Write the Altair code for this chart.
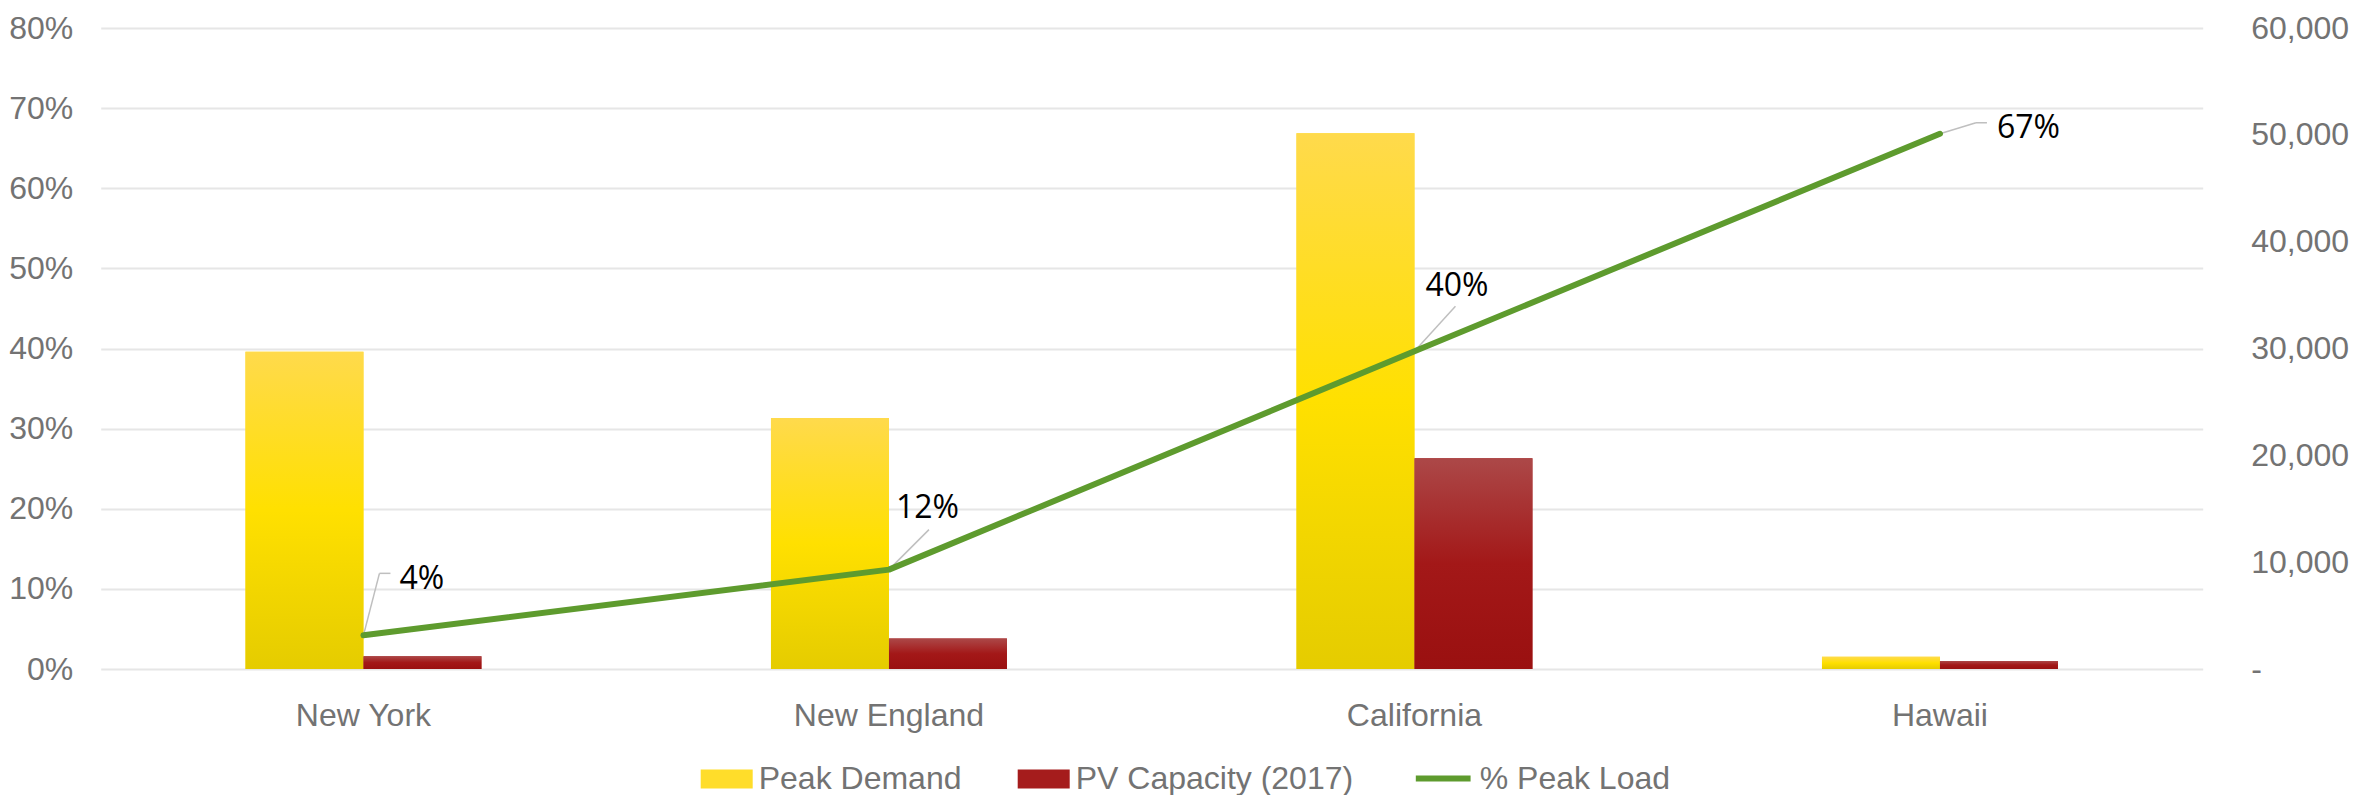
import altair as alt
import pandas as pd

# ---------------- data ----------------
CATEGORIES = ["New York", "New England", "California", "Hawaii"]
PEAK_DEMAND = [29700, 23500, 50150, 1150]
PV_CAPACITY = [1200, 2860, 19720, 760]
PCT_PEAK_LOAD = [0.042, 0.124, 0.3965, 0.668]
BAR_SERIES = ["Peak Demand", "PV Capacity (2017)"]
LINE_SERIES = ["% Peak Load"]
LEFT_TICKS = [0, 0.1, 0.2, 0.3, 0.4, 0.5, 0.6, 0.7, 0.8]
RIGHT_TICKS = [0, 10000, 20000, 30000, 40000, 50000, 60000]

df = pd.DataFrame({
    "Region": CATEGORIES,
    "Peak Demand": PEAK_DEMAND,
    "PV Capacity (2017)": PV_CAPACITY,
    "Pct": PCT_PEAK_LOAD,
})

# ---------------- styles ----------------
FONT = "Liberation Sans"
LABEL_FONT = "Open Sans"
GRAY = "#737373"
GREEN = "#5E9B2E"
YELLOW = "#FFDD2A"
RED = "#A51C1C"
LEADER = "#BFBFBF"
W, H = 2102, 641

YELLOW_GRAD = alt.Gradient(
    gradient="linear", x1=0, y1=0, x2=0, y2=1,
    stops=[alt.GradientStop(offset=0, color="#FFDA4C"),
           alt.GradientStop(offset=0.5, color="#FFE000"),
           alt.GradientStop(offset=1, color="#E5CC00")])
RED_GRAD = alt.Gradient(
    gradient="linear", x1=0, y1=0, x2=0, y2=1,
    stops=[alt.GradientStop(offset=0, color="#AC4848"),
           alt.GradientStop(offset=0.5, color="#A31818"),
           alt.GradientStop(offset=1, color="#9A1010")])

x_axis = alt.Axis(labelAngle=0, labelFont=FONT, labelFontSize=32,
                  labelColor=GRAY, labelPadding=31, labelLimit=500, ticks=False,
                  domain=False, grid=False, title=None)
x_scale = alt.Scale(paddingInner=0.551, paddingOuter=0.2755)
x_enc = alt.X("Region:N", sort=CATEGORIES, title=None, scale=x_scale, axis=x_axis)
x_center = alt.X("Region:N", sort=CATEGORIES, title=None, scale=x_scale,
                 bandPosition=0.5, axis=x_axis)

mw_scale = alt.Scale(domain=[0, 60000], nice=False)
pct_scale = alt.Scale(domain=[0, 0.8], nice=False)
x_off = alt.XOffset("Series:N", scale=alt.Scale(domain=BAR_SERIES, paddingInner=0, paddingOuter=0))

right_axis = alt.Axis(orient="right", values=RIGHT_TICKS, grid=False, ticks=False,
                      domain=False, labelFont=FONT, labelFontSize=32,
                      labelColor=GRAY, labelAlign="left", labelPadding=48,
                      labelExpr="datum.value == 0 ? '-' : format(datum.value, ',')",
                      title=None)
left_axis = alt.Axis(orient="left", values=LEFT_TICKS, format=".0%", grid=True,
                     gridColor="#E6E6E6", gridWidth=2, ticks=False, domain=False,
                     labelFont=FONT, labelFontSize=32, labelColor=GRAY,
                     labelPadding=28, title=None)

y_mw = alt.Y("MW:Q", scale=mw_scale, axis=right_axis, title=None)
y_pct = alt.Y("Pct:Q", scale=pct_scale, axis=left_axis, title=None)

base = alt.Chart(df)
folded = base.transform_fold(BAR_SERIES, as_=["Series", "MW"])

bar_legend = alt.Legend(
    title=None, orient="none", legendX=600, legendY=725, direction="horizontal",
    symbolType="M-1,-0.365H1V0.365H-1Z", symbolSize=2704, symbolStrokeWidth=0,
    symbolOpacity=1, labelFont=FONT, labelFontSize=32, labelColor=GRAY,
    labelOffset=6, labelLimit=500, columnPadding=56, padding=0)

# plain-colour bars (carry the legend) ...
bars_plain = (folded.mark_bar()
              .encode(x=x_enc, xOffset=x_off, y=y_mw,
                      fill=alt.Fill("Series:N", scale=alt.Scale(domain=BAR_SERIES, range=[YELLOW, RED]),
                                    legend=bar_legend)))

# ... covered by the gradient-filled bars
def grad_layer(series, fill):
    return (folded.transform_filter(alt.datum.Series == series)
            .mark_bar(fill=fill)
            .encode(x=x_enc, xOffset=x_off, y=y_mw))

bars = alt.layer(bars_plain, grad_layer(BAR_SERIES[0], YELLOW_GRAD),
                 grad_layer(BAR_SERIES[1], RED_GRAD))

# ---------------- line (left axis) ----------------
line_legend = alt.Legend(
    title=None, orient="none", legendX=1312, legendY=720, direction="horizontal",
    symbolType="stroke", symbolSize=3000, symbolStrokeWidth=6, symbolOpacity=1,
    labelFont=FONT, labelFontSize=32, labelColor=GRAY, labelOffset=6,
    labelLimit=500, padding=0)

line = (base.transform_calculate(Series="'% Peak Load'")
        .mark_line(strokeWidth=6, strokeCap="round", strokeJoin="round")
        .encode(x=x_center, y=y_pct,
                stroke=alt.Stroke("Series:N", scale=alt.Scale(domain=LINE_SERIES, range=[GREEN]),
                                  legend=line_legend)))

# leader line segments (pixel offsets from the data point) and label offsets
LEADERS = {
    "New York": [(0, 0, 16, -62), (16, -62, 27, -62)],
    "New England": [(0, 0, 40, -40)],
    "California": [(0, 0, 41, -45)],
    "Hawaii": [(0, 0, 36, -11), (36, -11, 47, -11)],
}
LABEL_OFFSETS = {
    "New York": (36, -46),
    "New England": (7, -52),
    "California": (11, -55),
    "Hawaii": (57, 4),
}

leader_layers = []
for region, segs in LEADERS.items():
    for (ax, ay, bx, by) in segs:
        leader_layers.append(
            base.transform_filter(alt.datum.Region == region)
            .mark_rule(color=LEADER, strokeWidth=1.5,
                       xOffset=ax, yOffset=ay, x2Offset=bx, y2Offset=by)
            .encode(x=x_center,
                    x2=alt.X2("Region:N", bandPosition=0.5),
                    y=y_pct, y2=alt.Y2("Pct:Q")))

text_layers = []
for region, (dx, dy) in LABEL_OFFSETS.items():
    text_layers.append(
        base.transform_filter(alt.datum.Region == region)
        .mark_text(align="left", baseline="alphabetic", dx=dx, dy=dy,
                   font=LABEL_FONT, fontSize=32, color="#000000")
        .encode(x=x_center, y=y_pct, text=alt.Text("Pct:Q", format=".0%")))

pct_layer = alt.layer(*leader_layers, line, *text_layers)

chart = (alt.layer(bars, pct_layer)
         .resolve_scale(y="independent")
         .properties(width=W, height=H,
                     autosize=alt.AutoSizeParams(type="none"),
                     padding={"left": 92.7, "top": 20, "right": 147.3, "bottom": 126},
                     background="white")
         .configure_view(stroke=None))

chart.save("out.html", embed_options={"renderer": "svg", "actions": False})
